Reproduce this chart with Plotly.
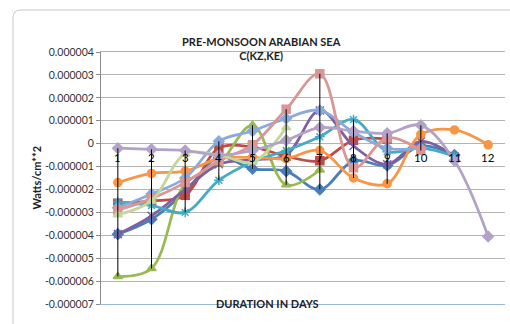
import plotly.graph_objects as go

days = [1, 2, 3, 4, 5, 6, 7, 8, 9, 10, 11, 12]
day_labels = ["1", "2", "3", "4", "5", "6", "7", "8", "9", "10", "11", "12"]

# values in units of 1e-6 W/cm^2 (scaled below)
s1 = [-3.95, -3.3, -2.1, -0.6, -1.1, -1.2, -2.0, -0.75, -0.95, -0.1, -0.5, None]
s2 = [-2.6, -2.5, -2.25, -0.2, -0.15, -0.55, -0.75, 0.15, 0.2, None, None, None]
s3 = [-5.8, -5.45, -1.75, -0.9, 0.8, -1.8, -1.15, None, None, None, None, None]
s4 = [-3.95, -3.15, -2.0, -0.9, -0.7, -0.5, 1.45, -0.1, -0.9, 0.1, -0.55, None]
s5 = [-2.55, -2.7, -3.0, -1.6, -0.8, -0.3, 0.3, 1.05, -0.35, -0.2, -0.55, None]
s6 = [-1.7, -1.3, -1.2, -0.65, -0.6, -0.65, -0.3, -1.5, -1.75, 0.4, 0.6, -0.05]
s7 = [-2.8, -2.2, -1.5, 0.1, 0.55, 1.1, 1.45, 0.5, -0.2, -0.2, None, None]
s8 = [-2.9, -2.4, -1.7, -0.75, -0.05, 1.5, 3.05, -1.05, 0.25, -0.3, None, None]
s9 = [-3.1, -2.5, -0.45, -0.5, -0.8, 0.7, None, None, None, None, None, None]
s10 = [-0.2, -0.25, -0.3, -0.5, -0.3, 0.15, 0.7, 0.55, 0.45, 0.8, -0.75, -4.05]

series = [s1, s2, s3, s4, s5, s6, s7, s8, s9, s10]
colors = ["#4A7EBB", "#BE4B48", "#98B954", "#7D60A0", "#46AAC5", "#F79646",
          "#8CA9DB", "#D99694", "#C3D69B", "#B3A2C7"]
symbols = ["diamond", "square", "triangle-up", "x-thin", "asterisk-open", "circle",
           "diamond", "square", "triangle-up", "diamond"]

ytick_vals = [4, 3, 2, 1, 0, -1, -2, -3, -4, -5, -6, -7]
ytick_text = ["0.000004", "0.000003", "0.000002", "0.000001", "0", "-0.000001",
              "-0.000002", "-0.000003", "-0.000004", "-0.000005", "-0.000006", "-0.000007"]

SCALE = 1e-6

fig = go.Figure()
for vals, c, sym in zip(series, colors, symbols):
    ys = [None if v is None else v * SCALE for v in vals]
    fig.add_trace(go.Scatter(
        x=days, y=ys, mode="lines+markers",
        line=dict(color=c, width=2.75, shape="spline", smoothing=1.0),
        marker=dict(symbol=sym, size=8, color=c, line=dict(color=c, width=1.5)),
        connectgaps=False, showlegend=False, hoverinfo="skip"))

# high-low lines (min to max across series) for days 1..10
hx, hy = [], []
for i, d in enumerate(days[:10]):
    vals = [s[i] for s in series if s[i] is not None]
    hx += [d, d, None]
    hy += [min(vals) * SCALE, max(vals) * SCALE, None]
fig.add_trace(go.Scatter(x=hx, y=hy, mode="lines",
                         line=dict(color="#000000", width=1),
                         showlegend=False, hoverinfo="skip"))

for d, lab in zip(days, day_labels):
    fig.add_annotation(x=d, y=0, text=lab, showarrow=False, yshift=-14,
                       font=dict(family="Lato, Liberation Sans", size=11.5, color="#000000"))

fig.add_annotation(xref="paper", yref="paper", x=0.3985, y=1.075,
                   text="<b>PRE-MONSOON ARABIAN SEA</b><br><b>C(KZ,KE)</b>",
                   showarrow=False, align="center",
                   font=dict(family="Lato, Liberation Sans", size=11, color="#222222"))
fig.add_annotation(xref="paper", yref="paper", x=0.413, y=-0.032,
                   text="<b>DURATION IN DAYS</b>", showarrow=False,
                   font=dict(family="Lato, Liberation Sans", size=11, color="#222222"))
fig.add_annotation(xref="paper", yref="paper", x=-0.183, y=0.5,
                   text="<b>Watts/cm**2</b>", showarrow=False, textangle=-90,
                   font=dict(family="Lato, Liberation Sans", size=11, color="#222222"))

# chart-area rounded border (top-left)
fig.add_shape(type="path", xref="paper", yref="paper",
              path="M -0.2178,-0.1 L -0.2178,1.135 Q -0.2178,1.1667 -0.198,1.1667 L 1.02,1.1667",
              line=dict(color="#C8C8C8", width=1))

fig.update_layout(
    width=510, height=324,
    margin=dict(l=101, r=5, t=52, b=20),
    paper_bgcolor="white", plot_bgcolor="white",
    font=dict(family="Lato, Liberation Sans", size=10, color="#404040"),
    xaxis=dict(range=[0.5, 12.5], showticklabels=False, showgrid=False,
               zeroline=False, showline=True, linecolor="#9DB7D6", mirror=True,
               ticks=""),
    yaxis=dict(range=[-7e-6, 4e-6], tickvals=[v * SCALE for v in ytick_vals],
               ticktext=ytick_text, showgrid=True, gridcolor="#B4B4B4", gridwidth=1,
               zeroline=False, showline=True, linecolor="#8C8C8C", ticks="outside",
               ticklen=4, tickcolor="#8C8C8C",
               tickfont=dict(family="Lato, Liberation Sans", size=10.5, color="#333333")),
)

fig.write_html("out.html")
